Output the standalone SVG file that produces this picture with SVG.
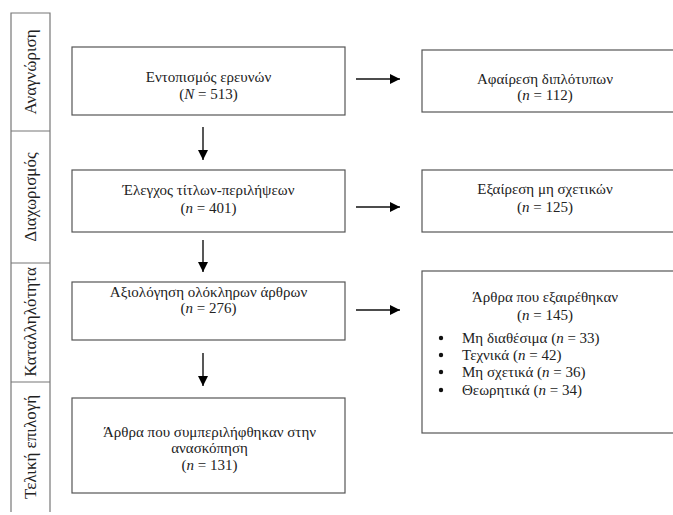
<svg xmlns="http://www.w3.org/2000/svg" width="673" height="515" viewBox="0 0 673 515">
<defs>
<marker id="ah" viewBox="0 0 10 10" refX="10" refY="5" markerWidth="10" markerHeight="10" markerUnits="userSpaceOnUse" orient="auto">
<path d="M0,0 L10,5 L0,10 z" fill="#000"/>
</marker>
<style>
.box{fill:#fff;stroke:#555;stroke-width:1.2}
.t{font-family:"Liberation Serif","DejaVu Serif",serif;font-size:15px;fill:#222;text-anchor:middle}
.tl{font-family:"Liberation Serif","DejaVu Serif",serif;font-size:15px;fill:#222}
.lab{font-family:"Liberation Serif","DejaVu Serif",serif;font-size:17px;fill:#222;text-anchor:middle}
.strip{fill:none;stroke:#777;stroke-width:1.2}
.arr{stroke:#111;stroke-width:1.4;fill:none;marker-end:url(#ah)}
.i{font-style:italic}
</style>
</defs>
<rect width="673" height="515" fill="#fff"/>
<g id="stages">
<path class="strip" d="M11,512 V13 H50 V512 M11,131 H50 M11,263 H50 M11,382 H50"/>
<text class="lab" transform="translate(36,72) rotate(-90)">Αναγνώριση</text>
<text class="lab" transform="translate(36,197) rotate(-90)">Διαχωρισμός</text>
<text class="lab" transform="translate(36,322) rotate(-90)">Καταλληλότητα</text>
<text class="lab" transform="translate(36,447) rotate(-90)">Τελική επιλογή</text>
</g>
<g id="n1">
<rect class="box" x="72" y="47" width="273" height="68"/>
<text class="t" x="208.5" y="82">Εντοπισμός ερευνών</text>
<text class="t" x="208.5" y="99">(<tspan class="i">N</tspan> = 513)</text>
</g>
<g id="n2">
<rect class="box" x="422" y="50" width="260" height="62"/>
<text class="t" x="545" y="84">Αφαίρεση διπλότυπων</text>
<text class="t" x="545" y="100">(<tspan class="i">n</tspan> = 112)</text>
</g>
<g id="n3">
<rect class="box" x="72" y="170" width="273" height="62"/>
<text class="t" x="208.5" y="195">Έλεγχος τίτλων-περιλήψεων</text>
<text class="t" x="208.5" y="213">(<tspan class="i">n</tspan> = 401)</text>
</g>
<g id="n4">
<rect class="box" x="422" y="170" width="260" height="62"/>
<text class="t" x="545" y="194">Εξαίρεση μη σχετικών</text>
<text class="t" x="545" y="212">(<tspan class="i">n</tspan> = 125)</text>
</g>
<g id="n5">
<rect class="box" x="72" y="282" width="273" height="58"/>
<text class="t" x="208.5" y="297">Αξιολόγηση ολόκληρων άρθρων</text>
<text class="t" x="208.5" y="313">(<tspan class="i">n</tspan> = 276)</text>
</g>
<g id="n6">
<rect class="box" x="422" y="271" width="260" height="162"/>
<text class="t" x="545" y="302">Άρθρα που εξαιρέθηκαν</text>
<text class="t" x="545" y="320">(<tspan class="i">n</tspan> = 145)</text>
<g class="tl">
<circle cx="441" cy="338" r="2.2" fill="#111"/>
<circle cx="441" cy="355" r="2.2" fill="#111"/>
<circle cx="441" cy="372" r="2.2" fill="#111"/>
<circle cx="441" cy="390" r="2.2" fill="#111"/>
<text x="462" y="343">Μη διαθέσιμα (<tspan class="i">n</tspan> = 33)</text>
<text x="462" y="360">Τεχνικά (<tspan class="i">n</tspan> = 42)</text>
<text x="462" y="377">Μη σχετικά (<tspan class="i">n</tspan> = 36)</text>
<text x="462" y="395">Θεωρητικά (<tspan class="i">n</tspan> = 34)</text>
</g>
</g>
<g id="n7">
<rect class="box" x="72" y="398" width="273" height="95"/>
<text class="t" x="209.5" y="437">Άρθρα που συμπεριλήφθηκαν στην</text>
<text class="t" x="209.5" y="453">ανασκόπηση</text>
<text class="t" x="209.5" y="470">(<tspan class="i">n</tspan> = 131)</text>
</g>
<g id="connectors">
<line class="arr" x1="356" y1="79" x2="400" y2="79"/>
<line class="arr" x1="356" y1="207" x2="400" y2="207"/>
<line class="arr" x1="356" y1="310" x2="400" y2="310"/>
<line class="arr" x1="203" y1="127" x2="203" y2="160"/>
<line class="arr" x1="203" y1="240" x2="203" y2="272"/>
<line class="arr" x1="203" y1="353" x2="203" y2="386"/>
</g>
</svg>
